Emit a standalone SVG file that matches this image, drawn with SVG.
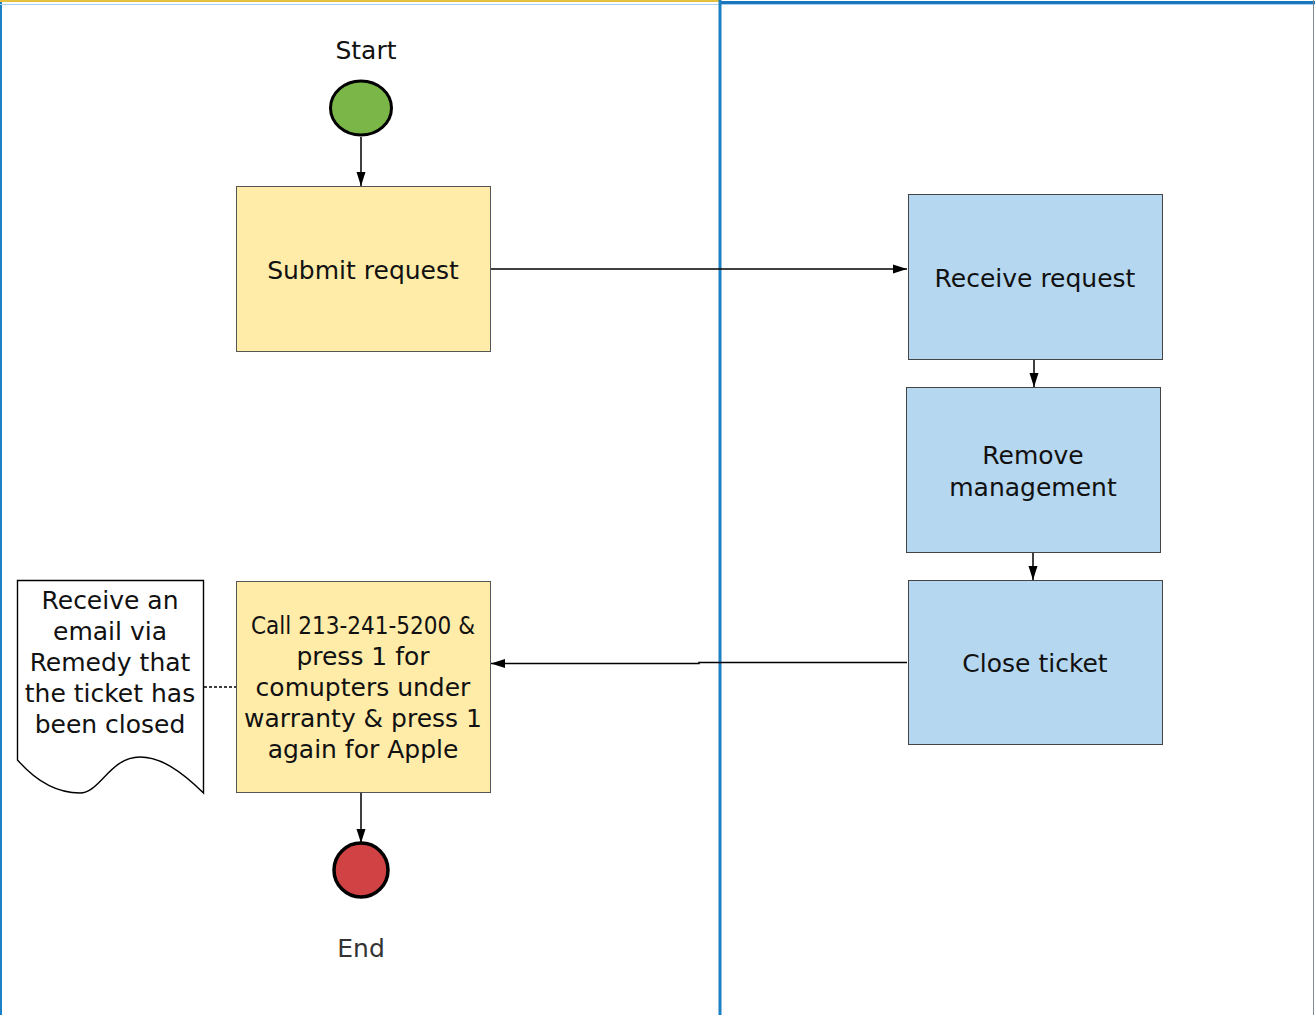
<svg xmlns="http://www.w3.org/2000/svg" width="1315" height="1015" viewBox="0 0 1315 1015">
  <style>
    text { font-family: "DejaVu Sans", "Liberation Sans", sans-serif; font-size: 25px; fill: #111; text-anchor: middle; }
    .yellow { fill: #FFECA9; stroke: #555; stroke-width: 1; }
    .blue { fill: #B5D7F0; stroke: #444; stroke-width: 1; }
    .edge { fill: none; stroke: #000; stroke-width: 1.5; }
  </style>
  <defs>
    <marker id="arrow" viewBox="0 0 14 10" refX="14" refY="5" markerWidth="14" markerHeight="10" markerUnits="userSpaceOnUse" orient="auto">
      <path d="M0,0.5 L14,5 L0,9.5 Z" fill="#000"/>
    </marker>
  </defs>

  <rect width="1315" height="1015" fill="#fff"/>

  <!-- swimlanes -->
  <g id="lanes">
    <line x1="1" y1="0" x2="1" y2="1015" stroke="#1B80C4" stroke-width="2"/>
    <line x1="0" y1="1" x2="720" y2="1" stroke="#E8C040" stroke-width="2"/>
    <line x1="720" y1="2.5" x2="1315" y2="2.5" stroke="#1B75BB" stroke-width="3"/>
    <line x1="0" y1="4.5" x2="1315" y2="4.5" stroke="#A8D0EE" stroke-width="1"/>
    <line x1="720" y1="0" x2="720" y2="1015" stroke="#1B80C4" stroke-width="3"/>
    <line x1="1313.5" y1="0" x2="1313.5" y2="1015" stroke="#7a8a99" stroke-width="1"/>
  </g>

  <!-- connectors -->
  <g id="connectors">
    <line class="edge" x1="361" y1="137" x2="361" y2="186" marker-end="url(#arrow)"/>
    <line class="edge" x1="491" y1="269" x2="907" y2="269" marker-end="url(#arrow)"/>
    <line class="edge" x1="1034" y1="360" x2="1034" y2="387" marker-end="url(#arrow)"/>
    <line class="edge" x1="1033" y1="553" x2="1033" y2="580" marker-end="url(#arrow)"/>
    <polyline class="edge" points="907,662.5 699,662.5 699,663.5 491,663.5" marker-end="url(#arrow)"/>
    <line x1="204" y1="687" x2="236" y2="687" stroke="#000" stroke-width="1.3" stroke-dasharray="3,2"/>
    <line class="edge" x1="361" y1="792" x2="361" y2="843" marker-end="url(#arrow)"/>
  </g>

  <!-- nodes -->
  <g id="start">
    <ellipse cx="361" cy="108" rx="30.5" ry="27" fill="#7AB648" stroke="#000" stroke-width="3"/>
    <text x="366" y="59">Start</text>
  </g>

  <g id="submit-request">
    <rect class="yellow" x="236.5" y="186.5" width="254" height="165"/>
    <text x="363" y="279">Submit request</text>
  </g>

  <g id="receive-request">
    <rect class="blue" x="908.5" y="194.5" width="254" height="165"/>
    <text x="1035" y="287">Receive request</text>
  </g>

  <g id="remove-management">
    <rect class="blue" x="906.5" y="387.5" width="254" height="165"/>
    <text x="1033" y="464">Remove</text>
    <text x="1033" y="496">management</text>
  </g>

  <g id="close-ticket">
    <rect class="blue" x="908.5" y="580.5" width="254" height="164"/>
    <text x="1035" y="672">Close ticket</text>
  </g>

  <g id="call-vendor">
    <rect class="yellow" x="236.5" y="581.5" width="254" height="211"/>
    <text x="363" y="634" textLength="224" lengthAdjust="spacingAndGlyphs">Call 213-241-5200 &amp;</text>
    <text x="363" y="665">press 1 for</text>
    <text x="363" y="696">comupters under</text>
    <text x="363" y="727">warranty &amp; press 1</text>
    <text x="363" y="758">again for Apple</text>
  </g>

  <g id="email-note">
    <path d="M17.5,580.5 H203.5 V793 C180,770 160,757 140,757 C110,757 100,793 80,793 C55,793 35,780 17.5,760 Z" fill="#fff" stroke="#000" stroke-width="1.4"/>
    <text x="110" y="609">Receive an</text>
    <text x="110" y="640">email via</text>
    <text x="110" y="671">Remedy that</text>
    <text x="110" y="702">the ticket has</text>
    <text x="110" y="733">been closed</text>
  </g>

  <g id="end">
    <circle cx="361" cy="870" r="27" fill="#D04243" stroke="#000" stroke-width="3.5"/>
    <text x="361" y="957" style="fill:#333">End</text>
  </g>
</svg>
